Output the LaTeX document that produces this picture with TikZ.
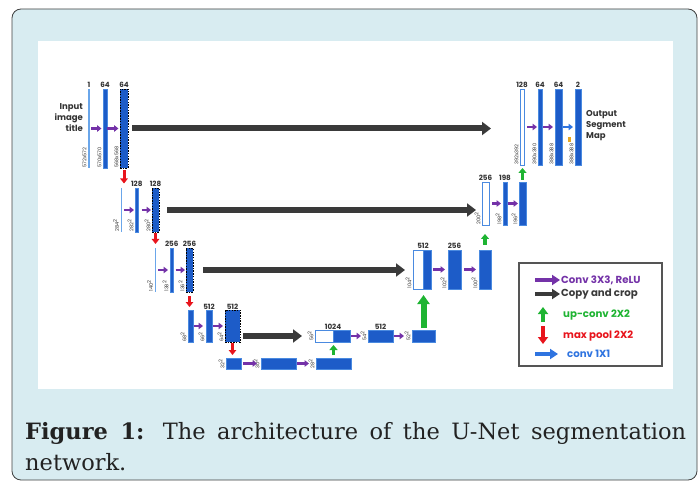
\documentclass[tikz,border=0pt]{standalone}
\usepackage{fontspec}
\setmainfont{DejaVu Serif}
\newfontfamily\dfont{Poppins}
\usetikzlibrary{arrows.meta,calc}
\definecolor{framebg}{HTML}{D8ECF1}
\definecolor{barblue}{HTML}{1D5CC8}
\definecolor{edgeblue}{HTML}{4A8AE0}
\definecolor{lightbar}{HTML}{6AA6EA}
\definecolor{convpurple}{HTML}{7432A8}
\definecolor{copygray}{HTML}{3A3A3A}
\definecolor{upgreen}{HTML}{1EB432}
\definecolor{poolred}{HTML}{E8141C}
\definecolor{onexone}{HTML}{2F74E0}
\definecolor{textgray}{HTML}{333333}
\definecolor{legborder}{HTML}{555555}
\definecolor{marky}{HTML}{E8A820}
\definecolor{captext}{HTML}{222222}
\newcommand{\mkbar}[6]{\node[#1, minimum width={(#4)-(#3)}, minimum height={(#6)-(#5)}] (#2) at ({((#3)+(#4))/2},{((#5)+(#6))/2}) {};}
\newcommand{\dimlow}[3]{\node[dim, anchor=south west] (#1) at ($(#2.south west)+(-1.2,0)$) {#3};}
\newcommand{\dimmid}[3]{\node[dim, anchor=south] (#1) at ($(#2.west)+(-1.2,0)$) {#3};}
\newcommand{\sq}{\textsuperscript{2}}
\begin{document}
\begin{tikzpicture}[x=1pt,y=-1pt,
  bar/.style={draw=edgeblue,line width=0.5pt,fill=barblue,inner sep=0pt,outer sep=0pt},
  thinbar/.style={fill=lightbar,draw=none,inner sep=0pt,outer sep=0pt},
  dashbar/.style={fill=barblue,draw=black,line width=0.7pt,dash pattern=on 1.5pt off 1.2pt,inner sep=0pt,outer sep=0pt},
  whitebar/.style={fill=white,draw=edgeblue,line width=0.8pt,inner sep=0pt,outer sep=0pt},
  num/.style={font=\dfont\bfseries\fontsize{7.2}{7.5}\selectfont,text=textgray,inner sep=0.8pt,anchor=south},
  dim/.style={font=\dfont\fontsize{5}{5}\selectfont,text=textgray,rotate=90,inner sep=0.2pt},
  conv/.style={draw=convpurple,line width=2.4pt,-{Triangle[width=6.5pt,length=4.5pt]}},
  copyarr/.style={draw=copygray,line width=6pt,-{Triangle[width=13pt,length=9pt]}},
  upsmall/.style={draw=upgreen,line width=3.5pt,-{Triangle[width=8pt,length=5pt]}},
  upbig/.style={draw=upgreen,line width=6pt,-{Triangle[width=12pt,length=9pt]}},
  pool/.style={draw=poolred,line width=3pt,-{Triangle[width=7.5pt,length=5pt]}},
  onearr/.style={draw=onexone,line width=2.4pt,-{Triangle[width=6.5pt,length=4.5pt]}},
  sidetext/.style={font=\dfont\bfseries\fontsize{8.5}{11}\selectfont,text=textgray,inner sep=0pt},
  legtext/.style={font=\dfont\bfseries\fontsize{10.2}{11}\selectfont,anchor=west,inner sep=0pt},
  captxt/.style={anchor=base west,inner sep=0pt,font=\fontsize{22.5}{22.5}\selectfont,text=captext},
]
\useasboundingbox (0,0) rectangle (699,481);
\draw[fill=framebg,draw=black!75,line width=0.8pt,rounded corners=9pt] (12,9) rectangle (697,480);
\fill[white] (38,41) rectangle (673,389);

% contracting path
\mkbar{thinbar}{a1}{88}{90}{89}{168}
\mkbar{bar}{a2}{103}{107}{89}{168}
\mkbar{dashbar}{a3}{120}{128}{89}{168}
\mkbar{thinbar}{b1}{120.5}{122}{188}{232}
\mkbar{bar}{b2}{135}{138.5}{188}{232}
\mkbar{dashbar}{b3}{152}{159}{188}{232}
\mkbar{thinbar}{c1}{154.5}{156}{248}{292}
\mkbar{bar}{c2}{170}{173.5}{248}{292}
\mkbar{dashbar}{c3}{186}{193}{248}{292}
\mkbar{bar}{d1}{188}{193}{310}{342}
\mkbar{bar}{d2}{206}{212}{310}{342}
\mkbar{dashbar}{d3}{225}{240}{310}{342}
\mkbar{bar}{e1}{226}{241}{358}{369}
\mkbar{bar}{e2}{261}{296}{358}{369}
\mkbar{bar}{e3}{316}{351}{358}{369}
% expanding path
\mkbar{whitebar}{f1}{315}{333}{330}{342}
\mkbar{bar}{f2}{333}{350}{330}{342}
\mkbar{bar}{g}{368}{393}{330}{342}
\mkbar{bar}{h}{412}{435}{330}{342}
\mkbar{whitebar}{i1}{413}{423}{250}{289}
\mkbar{bar}{i2}{423}{431}{250}{289}
\mkbar{bar}{j}{448}{461}{250}{289}
\mkbar{bar}{k}{479}{491}{250}{289}
\mkbar{whitebar}{l}{482}{489}{182}{225}
\mkbar{bar}{m}{503}{507}{182}{225}
\mkbar{bar}{n}{519}{526}{182}{225}
\mkbar{whitebar}{o}{520}{524}{89}{165}
\mkbar{bar}{p}{538}{542}{89}{165}
\mkbar{bar}{q}{555}{562}{89}{165}
\mkbar{bar}{r}{575}{581}{89}{165}
\node[fill=marky,minimum width=3pt,minimum height=5pt,inner sep=0pt] (mk) at (569.5,139.5) {};

% channel numbers
\node[num] (na1) at (a1.north) {1};
\node[num] (na2) at (a2.north) {64};
\node[num] (na3) at (a3.north) {64};
\node[num] (nb2) at (b2.north) {128};
\node[num] (nb3) at (b3.north) {128};
\node[num] (nc2) at (c2.north) {256};
\node[num] (nc3) at (c3.north) {256};
\node[num] (nd2) at (d2.north) {512};
\node[num] (nd3) at (d3.north) {512};
\node[num] (nf) at (f1.north east) {1024};
\node[num] (ng) at (g.north) {512};
\node[num] (ni) at (i1.north east) {512};
\node[num] (nj) at (j.north) {256};
\node[num] (nl) at (l.north) {256};
\node[num] (nm) at (m.north) {198};
\node[num] (no) at (o.north) {128};
\node[num] (np) at (p.north) {64};
\node[num] (nq) at (q.north) {64};
\node[num] (nr) at (r.north) {2};

% dimension labels
\dimlow{da1}{a1}{572x572}
\dimlow{da2}{a2}{570x570}
\dimlow{da3}{a3}{568x568}
\dimlow{db1}{b1}{284\sq}
\dimlow{db2}{b2}{282\sq}
\dimlow{db3}{b3}{280\sq}
\dimlow{dc1}{c1}{140\sq}
\dimlow{dc2}{c2}{138\sq}
\dimlow{dc3}{c3}{136\sq}
\dimlow{dd1}{d1}{68\sq}
\dimlow{dd2}{d2}{66\sq}
\dimlow{dd3}{d3}{64\sq}
\dimmid{de1}{e1}{32\sq}
\dimmid{de2}{e2}{30\sq}
\dimmid{de3}{e3}{28\sq}
\dimmid{df}{f1}{56\sq}
\dimmid{dg}{g}{54\sq}
\dimmid{dh}{h}{52\sq}
\dimlow{di}{i1}{104\sq}
\dimlow{dj}{j}{102\sq}
\dimlow{dk}{k}{100\sq}
\dimlow{dl}{l}{200\sq}
\dimlow{dm}{m}{198\sq}
\dimlow{dn}{n}{196\sq}
\dimlow{do}{o}{392x392}
\dimlow{dp}{p}{390x390}
\dimlow{dq}{q}{388x388}
\dimlow{dr}{r}{388x388}

% side texts
\node[sidetext,anchor=east,align=right] (inp) at (83,118) {Input\\image\\title};
\node[sidetext,anchor=west,align=left] (outp) at (586,126) {Output\\Segment\\Map};

% conv arrows
\draw[conv,shorten <=1pt,shorten >=1.5pt] (a1.east) -- (a2.west);
\draw[conv,shorten <=0pt,shorten >=1.5pt] (a2.east) -- (a3.west);
\draw[conv,shorten <=2pt,shorten >=1pt] (b1.east) -- (b2.west);
\draw[conv,shorten <=3pt,shorten >=1pt] (b2.east) -- (b3.west);
\draw[conv,shorten <=2pt,shorten >=2pt] (c1.east) -- (c2.west);
\draw[conv,shorten <=2pt,shorten >=1pt] (c2.east) -- (c3.west);
\draw[conv,shorten <=0.5pt,shorten >=3pt] (d1.east) -- (d2.west);
\draw[conv,shorten <=1pt,shorten >=2pt] (d2.east) -- (d3.west);
\draw[conv,shorten <=2pt,shorten >=4pt] (e1.east) -- (e2.west);
\draw[conv,shorten <=1pt,shorten >=7pt] (e2.east) -- (e3.west);
\draw[conv,shorten <=1pt,shorten >=7pt] (f2.east) -- (g.west);
\draw[conv,shorten <=1pt,shorten >=8pt] (g.east) -- (h.west);
\draw[conv,shorten <=2pt,shorten >=3pt] (i2.east) -- (j.west);
\draw[conv,shorten <=3pt,shorten >=3pt] (j.east) -- (k.west);
\draw[conv,shorten <=3pt,shorten >=2pt] (l.east) -- (m.west);
\draw[conv,shorten <=0.5pt,shorten >=1pt] (m.east) -- (n.west);
\draw[conv,shorten <=3pt,shorten >=1pt] (o.east) -- (p.west);
\draw[conv,shorten <=1pt,shorten >=2pt] (p.east) -- (q.west);
\draw[onearr,shorten <=1pt,shorten >=2pt] (q.east) -- (r.west);

% copy and crop
\draw[copyarr,shorten <=4pt,shorten >=29pt] (a3.east) -- (a3.east -| o.west);
\draw[copyarr,shorten <=8pt,shorten >=6pt] (b3.east) -- (b3.east -| l.west);
\draw[copyarr,shorten <=10pt,shorten >=8pt] (c3.east) -- (c3.east -| i1.west);
\draw[copyarr,shorten <=3pt,shorten >=13pt] (d3.east |- f1.west) -- (f1.west);

% max pool
\draw[pool,shorten <=2.5pt,shorten >=4.5pt] (a3.south) -- (a3.south |- b1.north);
\draw[pool,shorten <=1.5pt,shorten >=4pt] (b3.south) -- (b3.south |- c1.north);
\draw[pool,shorten <=4pt,shorten >=3pt] (c3.south) -- (c3.south |- d1.north);
\draw[pool,shorten <=1pt,shorten >=3pt] (d3.south) -- (d3.south |- e1.north);

% up-conv
\draw[upsmall,shorten <=3pt,shorten >=3pt] (e3.north) -- (e3.north |- f2.south);
\draw[upbig,shorten <=2pt,shorten >=6pt] (h.north) -- (h.north |- i2.south);
\draw[upsmall,shorten <=5pt,shorten >=9pt] (k.north) -- (k.north |- l.south);
\draw[upsmall,shorten <=2pt,shorten >=3pt] (n.north) -- (n.north |- o.south);

% legend
\node[draw=legborder,line width=1.3pt,fill=white,minimum width=143pt,minimum height=103pt,inner sep=0pt] (legend) at (590.5,314.5) {};
\coordinate (lg1a) at (535,280); \coordinate (lg1b) at (560,280);
\coordinate (lg2a) at (535,294); \coordinate (lg2b) at (560,294);
\coordinate (lg3a) at (543,322); \coordinate (lg3b) at (543,307);
\coordinate (lg4a) at (543,326); \coordinate (lg4b) at (543,344);
\coordinate (lg5a) at (535,354); \coordinate (lg5b) at (558,354);
\draw[conv,line width=4.5pt,-{Triangle[width=10pt,length=8pt]}] (lg1a) -- (lg1b);
\draw[copyarr,line width=4.5pt,-{Triangle[width=10pt,length=8pt]}] (lg2a) -- (lg2b);
\draw[upsmall,line width=4.5pt,-{Triangle[width=10pt,length=7pt]}] (lg3a) -- (lg3b);
\draw[pool,line width=4.5pt,-{Triangle[width=10pt,length=7pt]}] (lg4a) -- (lg4b);
\draw[onearr,line width=4.5pt,-{Triangle[width=10pt,length=8pt]}] (lg5a) -- (lg5b);
\node[legtext,text=convpurple] (lt1) at (561,280) {Conv 3X3, ReLU};
\node[legtext,text=copygray] (lt2) at (561,294) {Copy and crop};
\node[legtext,text=upgreen] (lt3) at (563,315) {up-conv 2X2};
\node[legtext,text=poolred] (lt4) at (563,336) {max pool 2X2};
\node[legtext,text=onexone] (lt5) at (567,354) {conv 1X1};

% caption
\node[captxt] (cap1) at (25,439) {\makebox[661pt][s]{\textbf{Figure 1:} The architecture of the U-Net segmentation}};
\node[captxt] (cap2) at (25,470) {network.};
\end{tikzpicture}
\end{document}
